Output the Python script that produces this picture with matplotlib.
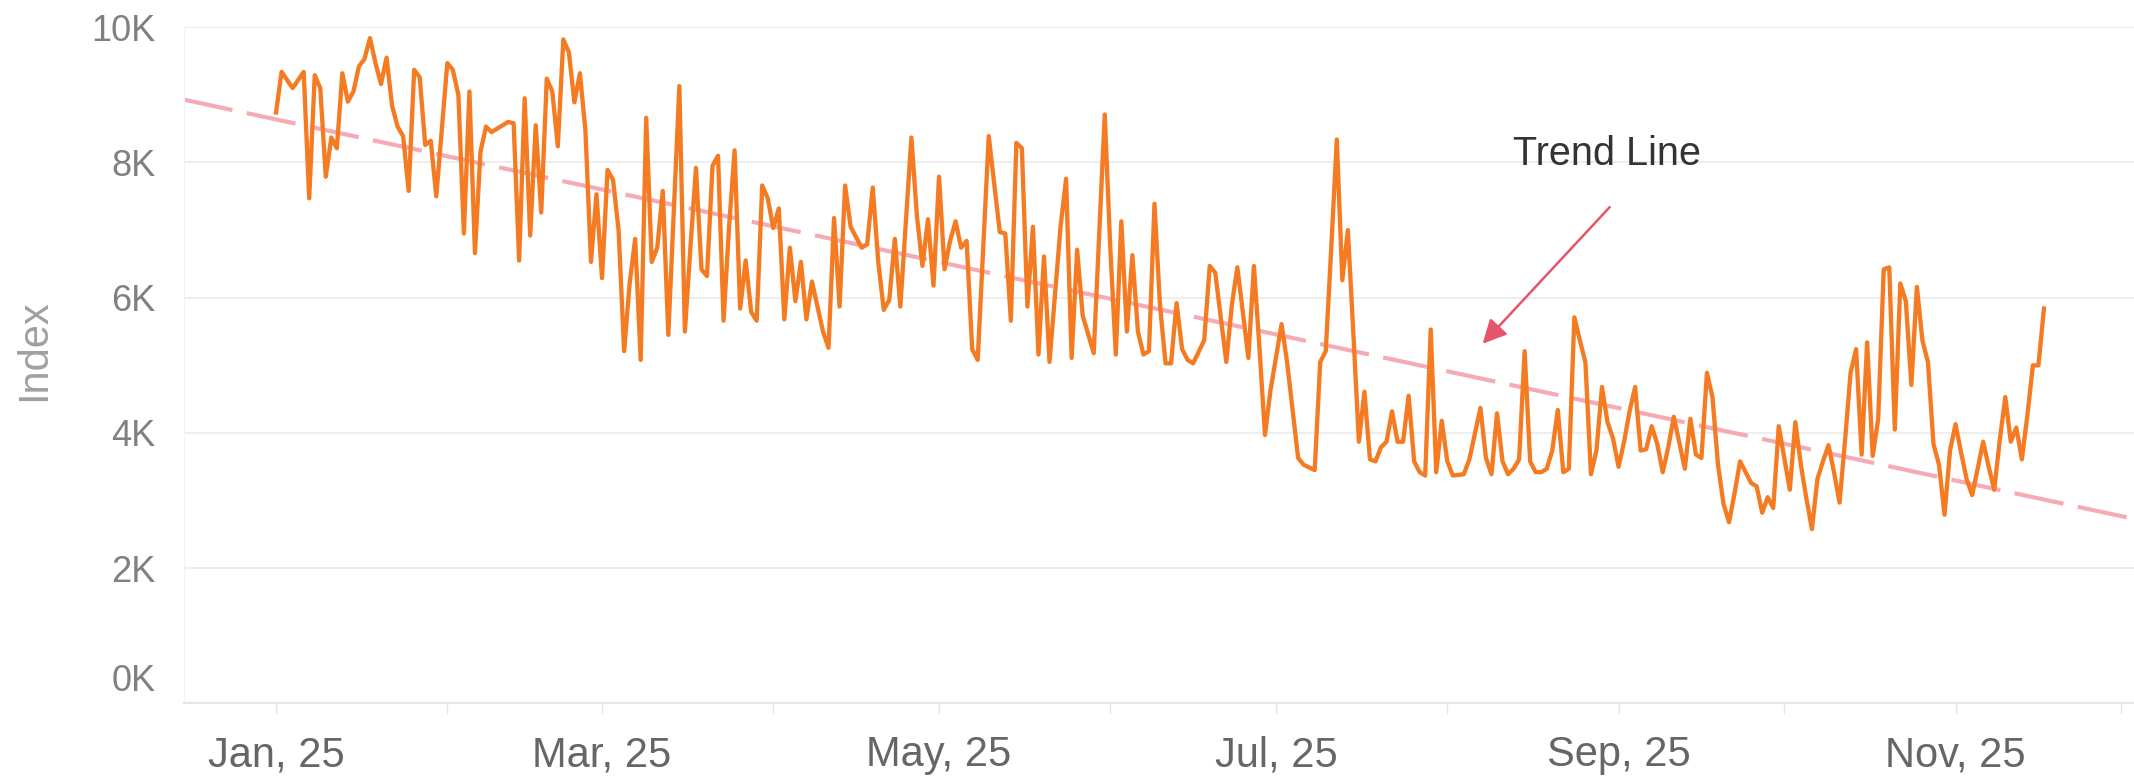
import matplotlib
matplotlib.use("Agg")
import matplotlib.pyplot as plt
import matplotlib.dates as mdates
from matplotlib.ticker import FuncFormatter
from matplotlib.transforms import ScaledTranslation
import numpy as np
import pandas as pd

plt.rcParams['font.family'] = ['Liberation Sans', 'DejaVu Sans']

# days after 1 Jan 2025 and index values (in thousands)
day_offset = [
    0, 1, 3, 5, 6, 7, 8, 9, 10, 11, 12, 13, 14, 15, 16, 17, 18, 19, 20, 21,
    22, 23, 24, 25, 26, 27, 28, 29, 31, 32, 33, 34, 35, 36, 37, 38, 39, 42, 43, 44,
    45, 46, 47, 48, 49, 50, 51, 52, 53, 54, 55, 56, 57, 58, 59, 60, 61, 62, 63, 64,
    65, 66, 67, 68, 69, 70, 71, 73, 74, 75, 76, 77, 78, 79, 80, 81, 82, 83, 84, 85,
    86, 87, 88, 89, 90, 91, 92, 93, 94, 95, 96, 97, 99, 100, 101, 102, 103, 104, 106, 107,
    108, 109, 110, 111, 112, 113, 115, 116, 117, 118, 119, 120, 121, 122, 123, 124, 125, 126, 127, 129,
    130, 131, 132, 133, 134, 135, 136, 137, 138, 139, 140, 142, 143, 144, 145, 146, 148, 150, 151, 152,
    153, 154, 155, 156, 157, 158, 159, 160, 161, 162, 163, 164, 165, 166, 168, 169, 170, 172, 173, 174,
    176, 177, 178, 179, 180, 182, 183, 185, 186, 188, 189, 190, 191, 192, 193, 194, 195, 196, 197, 198,
    199, 200, 201, 202, 203, 204, 205, 206, 207, 208, 209, 210, 211, 212, 213, 215, 216, 218, 219, 220,
    221, 222, 223, 224, 225, 226, 227, 228, 229, 230, 231, 232, 233, 234, 235, 236, 237, 238, 239, 240,
    241, 242, 243, 244, 245, 246, 247, 248, 249, 250, 251, 252, 253, 255, 256, 257, 258, 259, 260, 261,
    262, 263, 264, 265, 266, 267, 268, 269, 270, 271, 272, 273, 274, 275, 276, 277, 278, 279, 280, 281,
    282, 283, 284, 285, 286, 287, 288, 289, 290, 291, 292, 293, 294, 295, 296, 297, 298, 299, 300, 301,
    302, 303, 304, 305, 306, 307, 308, 309, 310, 311, 312, 313, 314, 315, 316, 317, 318, 319, 320,
]
index_k = [
    8.74, 9.34, 9.10, 9.34, 7.47, 9.29, 9.10, 7.79, 8.37, 8.21, 9.32, 8.90, 9.05, 9.42, 9.53, 9.84, 9.47, 9.16, 9.55, 8.84,
    8.53, 8.39, 7.58, 9.37, 9.26, 8.26, 8.32, 7.50, 9.47, 9.37, 9.00, 6.95, 9.05, 6.66, 8.16, 8.53, 8.45, 8.60, 8.58, 6.55,
    8.95, 6.92, 8.55, 7.26, 9.24, 9.05, 8.24, 9.82, 9.63, 8.89, 9.32, 8.47, 6.53, 7.53, 6.29, 7.89, 7.74, 7.00, 5.21, 6.21,
    6.87, 5.08, 8.66, 6.53, 6.74, 7.58, 5.45, 9.13, 5.50, 6.74, 7.92, 6.42, 6.32, 7.95, 8.10, 5.66, 7.05, 8.18, 5.84, 6.55,
    5.79, 5.66, 7.66, 7.47, 7.03, 7.32, 5.68, 6.74, 5.95, 6.53, 5.68, 6.24, 5.50, 5.26, 7.18, 5.87, 7.66, 7.05, 6.74, 6.79,
    7.63, 6.53, 5.82, 5.97, 6.87, 5.87, 8.37, 7.21, 6.47, 7.16, 6.18, 7.79, 6.42, 6.84, 7.13, 6.74, 6.84, 5.24, 5.08, 8.39,
    7.68, 6.97, 6.95, 5.66, 8.29, 8.21, 5.87, 7.05, 5.16, 6.61, 5.05, 7.05, 7.76, 5.11, 6.71, 5.74, 5.18, 8.71, 6.74, 5.16,
    7.13, 5.50, 6.63, 5.50, 5.16, 5.21, 7.39, 5.89, 5.03, 5.03, 5.92, 5.24, 5.08, 5.03, 5.37, 6.47, 6.37, 5.05, 5.89, 6.45,
    5.11, 6.47, 5.26, 3.97, 4.63, 5.61, 5.05, 3.63, 3.53, 3.45, 5.05, 5.21, 6.74, 8.34, 6.26, 7.00, 5.47, 3.87, 4.61, 3.61,
    3.58, 3.79, 3.87, 4.32, 3.87, 3.87, 4.55, 3.58, 3.42, 3.37, 5.53, 3.42, 4.18, 3.58, 3.37, 3.39, 3.61, 4.37, 3.63, 3.39,
    4.29, 3.58, 3.39, 3.47, 3.61, 5.21, 3.58, 3.42, 3.42, 3.47, 3.74, 4.34, 3.42, 3.47, 5.71, 5.37, 5.05, 3.39, 3.74, 4.68,
    4.16, 3.92, 3.50, 3.87, 4.32, 4.68, 3.74, 3.76, 4.10, 3.84, 3.42, 3.79, 4.24, 3.47, 4.21, 3.68, 3.63, 4.89, 4.53, 3.53,
    2.95, 2.68, 3.11, 3.58, 3.42, 3.26, 3.21, 2.82, 3.05, 2.89, 4.10, 3.63, 3.16, 4.16, 3.53, 3.03, 2.58, 3.32, 3.58, 3.82,
    3.42, 2.97, 3.89, 4.89, 5.24, 3.68, 5.34, 3.66, 4.21, 6.42, 6.45, 4.05, 6.21, 5.95, 4.71, 6.16, 5.37, 5.05, 3.84, 3.53,
    2.79, 3.74, 4.13, 3.71, 3.32, 3.08, 3.47, 3.87, 3.50, 3.16, 3.89, 4.53, 3.87, 4.08, 3.61, 4.26, 5.00, 5.00, 5.84,
]

y_ticks = [0, 2000, 4000, 6000, 8000, 10000]

start = pd.Timestamp('2025-01-01')
dates = start + pd.to_timedelta(day_offset, unit='D')
values = np.array(index_k) * 1000

# least squares trend over the whole series, drawn across the full x range
coef = np.polyfit(day_offset, values, 1)
x_lo = start - pd.Timedelta(days=16.75)
x_hi = start + pd.Timedelta(days=336.3)
trend_days = np.array([-16.75, 336.3])
trend_dates = start + pd.to_timedelta(trend_days, unit='D')
trend_vals = np.polyval(coef, trend_days)

fig = plt.figure(figsize=(21.34, 7.79), dpi=100)
ax = fig.add_axes([0.086, 0.097, 0.914, 0.868])

ax.plot(trend_dates, trend_vals, color='#F5AAB4', lw=3, dashes=(12, 3.5), zorder=2)
ax.plot(dates, values, color='#F47B22', lw=3.1, solid_joinstyle='round', zorder=3)

ax.set_xlim(x_lo, x_hi)
ax.set_ylim(0, 10000)

ax.set_yticks(y_ticks)
ax.yaxis.set_major_formatter(FuncFormatter(lambda v, p: f'{int(v / 1000)}K'))
ax.yaxis.grid(True, color='#EEEEEE', lw=1.5)
ax.set_axisbelow(True)

ax.xaxis.set_major_locator(mdates.MonthLocator(bymonth=[1, 3, 5, 7, 9, 11]))
ax.xaxis.set_minor_locator(mdates.MonthLocator())
ax.xaxis.set_major_formatter(mdates.DateFormatter('%b, %y'))

ax.tick_params(axis='y', length=0, pad=20, labelsize=26, labelcolor='#808080')
ax.tick_params(axis='x', which='both', length=8, width=1, color='#E6E6E6',
               pad=15, labelsize=30, labelcolor='#666666')

for side in ['top', 'right']:
    ax.spines[side].set_visible(False)
ax.spines['left'].set_color('#F2F2F2')
ax.spines['bottom'].set_color('#E6E6E6')
ax.spines['bottom'].set_linewidth(1.5)

# bottom label sits above its gridline in the original
lbl = ax.yaxis.get_major_ticks()[0].label1
lbl.set_transform(lbl.get_transform() + ScaledTranslation(0, 0.26, fig.dpi_scale_trans))

fig.text(0.016, 0.55, 'Index', rotation=90, ha='center', va='center',
         fontsize=30, color='#A0A0A0')

# annotation pointing at the trend line
ax.text(start + pd.Timedelta(days=240.9), 8130, 'Trend Line', ha='center', va='center',
        fontsize=28.5, color='#333333')
ax.annotate('', xy=(start + pd.Timedelta(days=218.4), 5320),
            xytext=(start + pd.Timedelta(days=241.4), 7340),
            arrowprops=dict(arrowstyle='-|>', color='#E6546A', lw=1.8,
                            mutation_scale=36, shrinkA=0, shrinkB=0))

fig.savefig('out.png', dpi=100)
